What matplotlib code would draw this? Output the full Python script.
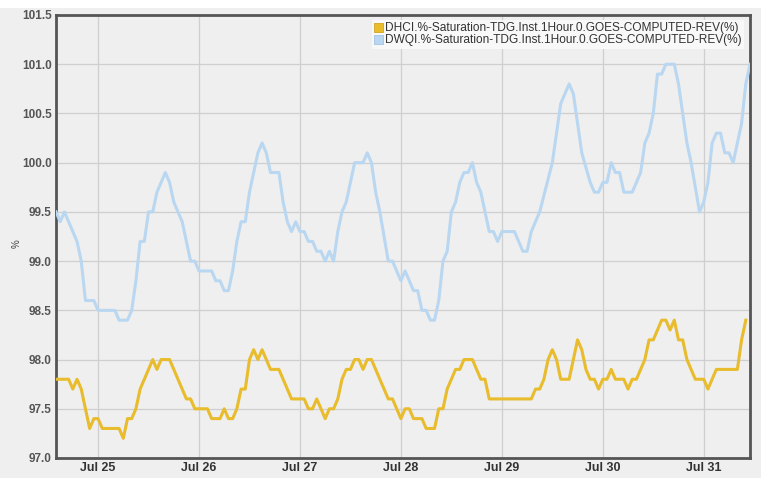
import pandas as pd
import matplotlib
matplotlib.use("Agg")
import matplotlib.pyplot as plt
import matplotlib.dates as mdates
from matplotlib.patches import Patch, Rectangle

# ---------- data (hour offsets from Jul 25 00:00, values in %) ----------
dwqi_hours = [-10, -9, -8, -5, -4, -3, -1, 0, 4, 5, 7, 8, 9, 10, 11, 12, 13, 14, 16, 17,
              18, 20, 22, 23, 24, 27, 28, 29, 30, 31, 32, 33, 34, 35, 36, 38, 39, 40, 41, 43,
              44, 45, 46, 47, 48, 49, 50, 51, 52, 53, 54, 55, 56, 57, 58, 59, 61, 63, 64, 65,
              66, 67, 69, 70, 72, 73, 75, 76, 77, 78, 79, 80, 81, 82, 83, 84, 85, 86, 87, 88,
              89, 90, 91, 93, 94, 95, 96, 99, 101, 102, 103, 105, 108, 110, 112, 113, 115, 117, 118, 119,
              120, 121, 122, 123, 124, 125, 127, 129, 130, 131, 132, 133, 134, 135, 137, 138, 140, 141, 143, 144,
              145, 146, 147, 148, 149, 150, 151, 153, 154, 155]
dwqi_values = [99.5, 99.4, 99.5, 99.2, 99.0, 98.6, 98.6, 98.5, 98.5, 98.4, 98.4, 98.5, 98.8, 99.2, 99.2, 99.5, 99.5, 99.7, 99.9, 99.8,
               99.6, 99.4, 99.0, 99.0, 98.9, 98.9, 98.8, 98.8, 98.7, 98.7, 98.9, 99.2, 99.4, 99.4, 99.7, 100.1, 100.2, 100.1, 99.9, 99.9,
               99.6, 99.4, 99.3, 99.4, 99.3, 99.3, 99.2, 99.2, 99.1, 99.1, 99.0, 99.1, 99.0, 99.3, 99.5, 99.6, 100.0, 100.0, 100.1, 100.0,
               99.7, 99.5, 99.0, 99.0, 98.8, 98.9, 98.7, 98.7, 98.5, 98.5, 98.4, 98.4, 98.6, 99.0, 99.1, 99.5, 99.6, 99.8, 99.9, 99.9,
               100.0, 99.8, 99.7, 99.3, 99.3, 99.2, 99.3, 99.3, 99.1, 99.1, 99.3, 99.5, 100.0, 100.6, 100.8, 100.7, 100.1, 99.8, 99.7, 99.7,
               99.8, 99.8, 100.0, 99.9, 99.9, 99.7, 99.7, 99.9, 100.2, 100.3, 100.5, 100.9, 100.9, 101.0, 101.0, 100.8, 100.2, 100.0, 99.5, 99.6,
               99.8, 100.2, 100.3, 100.3, 100.1, 100.1, 100.0, 100.4, 100.8, 101.0]

dhci_hours = [-10, -7, -6, -5, -4, -2, -1, 0, 1, 5, 6, 7, 8, 9, 10, 11, 13, 14, 15, 17,
              21, 22, 23, 26, 27, 29, 30, 31, 32, 33, 34, 35, 36, 37, 38, 39, 41, 43, 46, 49,
              50, 51, 52, 54, 55, 56, 57, 58, 59, 60, 61, 62, 63, 64, 65, 69, 70, 72, 73, 74,
              75, 77, 78, 80, 81, 82, 83, 85, 86, 87, 89, 91, 92, 93, 103, 104, 105, 106, 107, 108,
              109, 110, 112, 113, 114, 115, 116, 117, 118, 119, 120, 121, 122, 123, 125, 126, 127, 128, 130, 131,
              132, 133, 134, 135, 136, 137, 138, 139, 140, 142, 144, 145, 147, 152, 153, 154]
dhci_values = [97.8, 97.8, 97.7, 97.8, 97.7, 97.3, 97.4, 97.4, 97.3, 97.3, 97.2, 97.4, 97.4, 97.5, 97.7, 97.8, 98.0, 97.9, 98.0, 98.0,
               97.6, 97.6, 97.5, 97.5, 97.4, 97.4, 97.5, 97.4, 97.4, 97.5, 97.7, 97.7, 98.0, 98.1, 98.0, 98.1, 97.9, 97.9, 97.6, 97.6,
               97.5, 97.5, 97.6, 97.4, 97.5, 97.5, 97.6, 97.8, 97.9, 97.9, 98.0, 98.0, 97.9, 98.0, 98.0, 97.6, 97.6, 97.4, 97.5, 97.5,
               97.4, 97.4, 97.3, 97.3, 97.5, 97.5, 97.7, 97.9, 97.9, 98.0, 98.0, 97.8, 97.8, 97.6, 97.6, 97.7, 97.7, 97.8, 98.0, 98.1,
               98.0, 97.8, 97.8, 98.0, 98.2, 98.1, 97.9, 97.8, 97.8, 97.7, 97.8, 97.8, 97.9, 97.8, 97.8, 97.7, 97.8, 97.8, 98.0, 98.2,
               98.2, 98.3, 98.4, 98.4, 98.3, 98.4, 98.2, 98.2, 98.0, 97.8, 97.8, 97.7, 97.9, 97.9, 98.2, 98.4]

y_ticks = [97.0, 97.5, 98.0, 98.5, 99.0, 99.5, 100.0, 100.5, 101.0, 101.5]

dhci_label = "DHCI.%-Saturation-TDG.Inst.1Hour.0.GOES-COMPUTED-REV(%)"
dwqi_label = "DWQI.%-Saturation-TDG.Inst.1Hour.0.GOES-COMPUTED-REV(%)"

base = pd.Timestamp("2023-07-25")
dwqi_t = base + pd.to_timedelta(dwqi_hours, unit="h")
dhci_t = base + pd.to_timedelta(dhci_hours, unit="h")

# ---------- plot ----------
plt.rcParams['font.family'] = ['Liberation Sans', 'DejaVu Sans']

fig = plt.figure(figsize=(7.61, 4.78), dpi=100, facecolor='#efefef')
fig.patches.append(Rectangle((0, 1 - 8 / 478), 1, 8 / 478, transform=fig.transFigure,
                             facecolor='white', edgecolor='none', zorder=-1))
ax = fig.add_axes([56 / 761, 1 - 458 / 478, (750 - 56) / 761, (458 - 15) / 478])
ax.set_facecolor('#efefef')

yellow = '#e8bc2c'
blue = '#b9d7f1'
ax.plot(dhci_t, dhci_values, color=yellow, lw=2.2, solid_joinstyle='round', zorder=3)
ax.plot(dwqi_t, dwqi_values, color=blue, lw=2.2, solid_joinstyle='round', zorder=3)

ax.set_ylim(97.0, 101.5)
ax.set_yticks(y_ticks)
ax.set_yticklabels([f"{v:.1f}" for v in y_ticks])
ax.set_xlim(dwqi_t[0], dwqi_t[-1])
ax.xaxis.set_major_locator(mdates.DayLocator())
ax.xaxis.set_major_formatter(mdates.DateFormatter("%b %d"))

ax.grid(True, color='#cfcfcf', lw=0.9)
ax.set_axisbelow(True)
ax.tick_params(length=0, pad=3)
for lbl in ax.get_yticklabels():
    lbl.set_fontsize(8.5)
    lbl.set_fontweight('bold')
    lbl.set_color('#555555')
for lbl in ax.get_xticklabels():
    lbl.set_fontsize(9)
    lbl.set_fontweight('bold')
    lbl.set_color('#333333')

for side in ['left', 'bottom', 'top', 'right']:
    ax.spines[side].set_color('#555555')
    ax.spines[side].set_linewidth(2)

ax.set_ylabel('%', fontsize=7, color='#444444')
ax.yaxis.set_label_coords(-0.05, 0.485)

handles = [Patch(facecolor=yellow, edgecolor='#d0a520', lw=0.6),
           Patch(facecolor=blue, edgecolor='#a0c4e4', lw=0.6)]
leg = ax.legend(handles, [dhci_label, dwqi_label], loc='upper right',
                bbox_to_anchor=(0.9914, 0.9887),
                fontsize=8.55, frameon=True, fancybox=False, framealpha=1,
                facecolor='#f8f8f8', edgecolor='none', handlelength=0.75, handleheight=0.75,
                handletextpad=0.15, borderpad=0.2, labelspacing=0.0,
                borderaxespad=0.0)
for txt in leg.get_texts():
    txt.set_color('#333333')

fig.savefig("out.png", dpi=100, facecolor=fig.get_facecolor())
